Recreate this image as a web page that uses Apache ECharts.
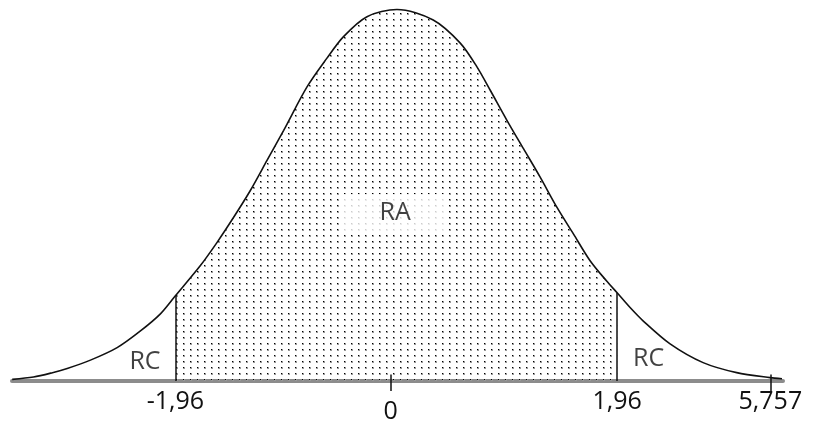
<!DOCTYPE html>
<html>
<head>
<meta charset="utf-8">
<script src="https://cdn.jsdelivr.net/npm/echarts@6/dist/echarts.min.js"></script>
<style>
  html, body { margin: 0; padding: 0; background: #fff; }
  #chart { width: 815px; height: 424px; }
</style>
</head>
<body>
<div id="chart"></div>
<script>
// curve: z position and height (density-like units)
var curveZ = [-3.408, -3.219, -3.051, -2.920, -2.714, -2.477, -2.270, -2.093, -1.960,
    -1.738, -1.590, -1.443, -1.295, -1.147, -0.999, -0.792, -0.615, -0.470, -0.260,
    0.006, 0.328, 0.568, 0.716, 0.834, 0.982, 1.129, 1.277, 1.425, 1.572, 1.720,
    1.869, 1.960, 2.075, 2.190, 2.430, 2.723, 3.021, 3.317, 3.423];
var curveY = [0.0018, 0.0043, 0.0090, 0.0135, 0.0225, 0.0360, 0.0540, 0.0724, 0.0919,
    0.1245, 0.1495, 0.1765, 0.2054, 0.2378, 0.2703, 0.3171, 0.3481, 0.3711, 0.3928,
    0.4005, 0.3892, 0.3643, 0.3387, 0.3135, 0.2811, 0.2505, 0.2198, 0.1874, 0.1586, 0.1297,
    0.1075, 0.0951, 0.0792, 0.0649, 0.0400, 0.0198, 0.0090, 0.0036, 0.0025];

var critLow = -1.96, critHigh = 1.96;

// where the picture puts its axis labels (schematic axis)
var tickZ = [-1.96, -0.05, 1.96, 3.32];
var tickLabels = ['-1,96', '0', '1,96', '5,757'];
var crossTicks = [-0.05, 3.32];

var regionNames = ['RC', 'RA', 'RC'];
var regionZ = [-2.23, -0.01, 2.24];
var regionY = [0.0205, 0.1816, 0.0240];

var FONT = '"Open Sans", Lato, sans-serif';
var INK = '#111';

function heightAt(z) {
    var i = curveZ.indexOf(z);
    return i >= 0 ? curveY[i] : 0;
}

// dotted fill pattern
var dots = document.createElement('canvas');
dots.width = 7;
dots.height = 6;
var dctx = dots.getContext('2d');
dctx.fillStyle = '#9a9a9a';
dctx.fillRect(1, 1, 2, 2);
dctx.fillStyle = '#000';
dctx.fillRect(1, 1, 1, 1);

var fullCurve = curveZ.map(function (z, i) { return [z, curveY[i]]; });
var midCurve = fullCurve.filter(function (p) { return p[0] >= critLow && p[0] <= critHigh; });

var myChart = echarts.init(document.getElementById('chart'), null, { renderer: 'canvas' });

var option = {
    animation: false,
    backgroundColor: '#fff',
    grid: { left: 12, right: 32, top: 0, bottom: 43, outerBoundsMode: 'none', containLabel: false },
    xAxis: {
        type: 'value',
        min: -3.41,
        max: 3.432,
        axisLine: { show: true, onZero: false, lineStyle: { color: '#8c8c8c', width: 4 } },
        axisTick: {
            show: true,
            customValues: crossTicks,
            length: 10,
            lineStyle: { color: '#111', width: 1.5 }
        },
        splitLine: { show: false },
        axisLabel: {
            show: true,
            customValues: tickZ,
            margin: 8,
            color: INK,
            fontFamily: FONT,
            fontSize: 25,
            lineHeight: 25,
            formatter: function (val) {
                var i = tickZ.indexOf(val);
                if (i < 0) return '';
                // the "0" sits a little lower in the picture
                return i === 1 ? '{gap| }\n' + tickLabels[i] : tickLabels[i];
            },
            rich: {
                gap: { fontSize: 2, lineHeight: 10 }
            }
        }
    },
    yAxis: {
        type: 'value',
        min: 0,
        max: 0.4108,
        show: false,
        splitLine: { show: false }
    },
    series: [
        {
            name: 'RA',
            type: 'line',
            data: midCurve,
            smooth: 0.3,
            symbol: 'none',
            lineStyle: { width: 0 },
            areaStyle: { color: { image: dots, repeat: 'repeat' }, opacity: 1 },
            z: 1,
            markLine: {
                silent: true,
                symbol: 'none',
                label: { show: false },
                lineStyle: { color: '#111', width: 1.5, type: 'solid' },
                data: [critLow, critHigh].map(function (z) {
                    return [{ coord: [z, 0] }, { coord: [z, heightAt(z)] }];
                }).concat(crossTicks.map(function (z) {
                    return [{ coord: [z, 0] }, { coord: [z, 0.007] }];
                }))
            }
        },
        {
            name: 'curve',
            type: 'line',
            data: fullCurve,
            smooth: 0.3,
            symbol: 'none',
            lineStyle: { color: '#111', width: 1.6 },
            z: 3
        },
        {
            name: 'labels',
            type: 'scatter',
            symbolSize: 0,
            z: 4,
            data: regionNames.map(function (n, i) { return { value: [regionZ[i], regionY[i]], name: n }; }),
            label: {
                show: true,
                position: 'inside',
                formatter: function (p) { return p.name; },
                color: INK,
                fontFamily: FONT,
                fontSize: 25
            },
            emphasis: { disabled: true }
        }
    ]
};

// white box behind RA
option.series[2].data[1].label = { backgroundColor: '#fff', padding: [5, 36], lineHeight: 27 };

myChart.setOption(option);
</script>
</body>
</html>
